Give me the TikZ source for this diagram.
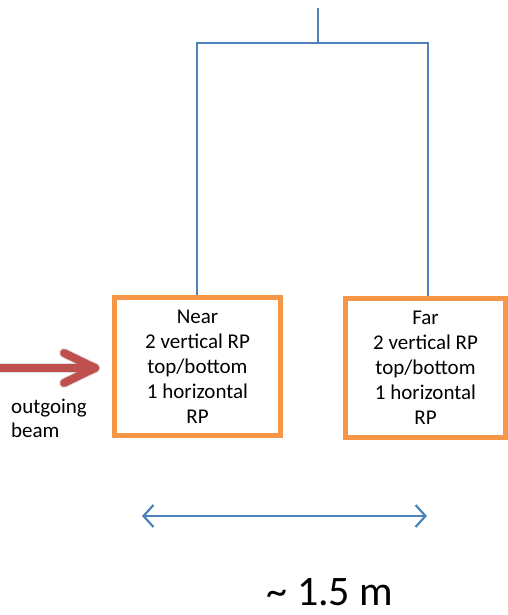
\documentclass[tikz,border=0pt]{standalone}
\usepackage{fontspec}
\setmainfont{Carlito}
\usetikzlibrary{arrows.meta}
\definecolor{linkblue}{HTML}{4F81BD}
\definecolor{boxorange}{HTML}{F79646}
\definecolor{beamred}{HTML}{C0504D}
\tikzset{
  px/.style={x=1pt,y=-1pt},
  rpbox/.style={draw=boxorange, line width=5pt, fill=white, align=center,
    font=\fontsize{21}{25}\selectfont, inner sep=0pt},
  wire/.style={draw=linkblue, line width=2pt},
  span/.style={draw=linkblue, line width=2.2pt,
    {Straight Barb[length=10pt,width=22pt]}-{Straight Barb[length=10pt,width=22pt]}},
  beam/.style={draw=beamred, line width=8pt, line cap=round, line join=round},
  beamshadow/.style={draw=black, opacity=0.12, line width=10pt, line cap=round, line join=round},
  label/.style={font=\fontsize{21}{25}\selectfont, inner sep=0pt}
}
\begin{document}
\begin{tikzpicture}[px]
\useasboundingbox (0,0) rectangle (508,615);
% stations
\node[rpbox, minimum width=166pt, minimum height=138pt] (near) at (197.5,366.5)
  {Near\\2 vertical RP\\top/bottom\\1 horizontal\\RP};
\node[rpbox, minimum width=160pt, minimum height=139pt] (far) at (425.5,368)
  {Far\\2 vertical RP\\top/bottom\\1 horizontal\\RP};
% readout tree
\coordinate (feed) at (318,8);
\coordinate (bus) at (318,43);
\coordinate (busL) at (197,43);
\coordinate (busR) at (428,43);
\draw[wire] (feed) -- (bus);
\draw[wire] (busL |- near.north) -- (busL) -- (busR) -- (busR |- far.north);
% beam arrow
\coordinate (beamstart) at (-6,368);
\coordinate (beamtip) at (95,368);
\coordinate (barbup) at (64,353);
\coordinate (barbdown) at (64,383);
\begin{scope}[shift={(2,3)}]
  \draw[beamshadow] (beamstart) -- (beamtip);
  \draw[beamshadow] (barbup) -- (beamtip) -- (barbdown);
\end{scope}
\draw[beam] (beamstart) -- (beamtip);
\draw[beam] (barbup) -- (beamtip) -- (barbdown);
\node[label, anchor=base west] (beamlabel1) at (11,413) {outgoing};
\node[label, anchor=base west] (beamlabel2) at (11,437) {beam};
% distance marker
\coordinate (spanL) at (142,516);
\coordinate (spanR) at (427,516);
\draw[span] (spanL) -- (spanR);
\node[font=\fontsize{42}{48}\selectfont, inner sep=0pt, text depth=0pt, anchor=base] (dist) at (330,605) {\textasciitilde\ 1.5 m};
\end{tikzpicture}
\end{document}
